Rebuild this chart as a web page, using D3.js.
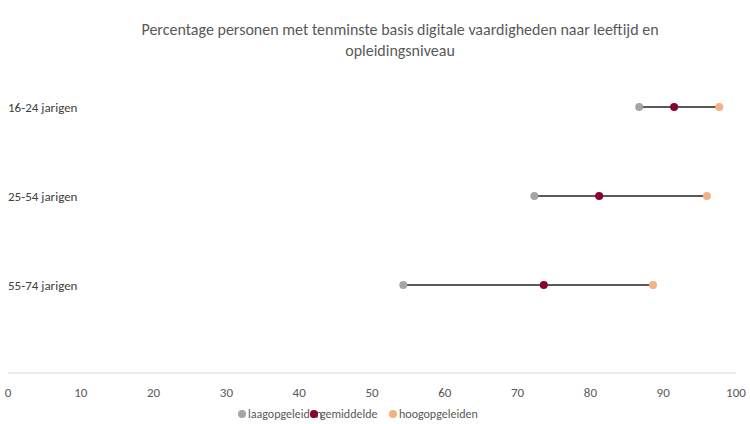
<!DOCTYPE html>
<html>
<head>
<meta charset="utf-8">
<script src="https://cdn.jsdelivr.net/npm/d3@7"></script>
<style>
  body { margin: 0; background: #fff; }
  text { font-family: Calibri, Carlito, "Open Sans", sans-serif; }
</style>
</head>
<body>
<div id="chart"></div>
<script>
// Data
const groups = ['16-24 jarigen', '25-54 jarigen', '55-74 jarigen'];
const laag = [86.7, 72.3, 54.3];
const gemiddeld = [91.5, 81.2, 73.6];
const hoog = [97.7, 96.0, 88.6];
const ticks = [0, 10, 20, 30, 40, 50, 60, 70, 80, 90, 100];
const seriesNames = ['laagopgeleiden', 'gemiddelde', 'hoogopgeleiden'];
const seriesColors = ['#a5a5a5', '#8b0033', '#f4b183'];

const width = 750, height = 424;
const svg = d3.select('#chart').append('svg')
    .attr('width', width)
    .attr('height', height);

const x = d3.scaleLinear().domain([0, 100]).range([8, 736]);
const y = d3.scalePoint().domain(groups).range([107, 285]);

// Title
svg.append('text')
    .attr('x', 400).attr('y', 35)
    .attr('text-anchor', 'middle')
    .style('font-size', '16px').style('fill', '#595959')
    .text('Percentage personen met tenminste basis digitale vaardigheden naar leeftijd en');
svg.append('text')
    .attr('x', 400).attr('y', 56)
    .attr('text-anchor', 'middle')
    .style('font-size', '16px').style('fill', '#595959')
    .text('opleidingsniveau');

// Axis
svg.append('line')
    .attr('x1', x(0)).attr('x2', x(100))
    .attr('y1', 373).attr('y2', 373)
    .attr('stroke', '#d9d9d9');
svg.selectAll('.tick')
    .data(ticks)
    .join('text')
    .attr('x', d => x(d)).attr('y', 397)
    .attr('text-anchor', 'middle')
    .style('font-size', '13px').style('fill', '#595959')
    .text(d => d);

// Category labels
svg.selectAll('.cat')
    .data(groups)
    .join('text')
    .attr('x', 8).attr('y', d => y(d) + 5)
    .style('font-size', '13px').style('fill', '#404040')
    .text(d => d);

// Connecting lines
svg.selectAll('.range')
    .data(groups)
    .join('line')
    .attr('x1', (d, i) => x(laag[i]))
    .attr('x2', (d, i) => x(hoog[i]))
    .attr('y1', d => y(d)).attr('y2', d => y(d))
    .attr('stroke', '#595959').attr('stroke-width', 2);

// Dots
[laag, gemiddeld, hoog].forEach((vals, s) => {
    svg.selectAll('.dot' + s)
        .data(groups)
        .join('circle')
        .attr('cx', (d, i) => x(vals[i]))
        .attr('cy', d => y(d))
        .attr('r', 4)
        .attr('fill', seriesColors[s]);
});

// Legend
const legendX = [242, 314, 393];
seriesNames.forEach((name, i) => {
    svg.append('circle')
        .attr('cx', legendX[i]).attr('cy', 414).attr('r', 4)
        .attr('fill', seriesColors[i]);
    svg.append('text')
        .attr('x', legendX[i] + 6).attr('y', 418)
        .style('font-size', '12px').style('fill', '#595959')
        .text(name);
});
</script>
</body>
</html>
